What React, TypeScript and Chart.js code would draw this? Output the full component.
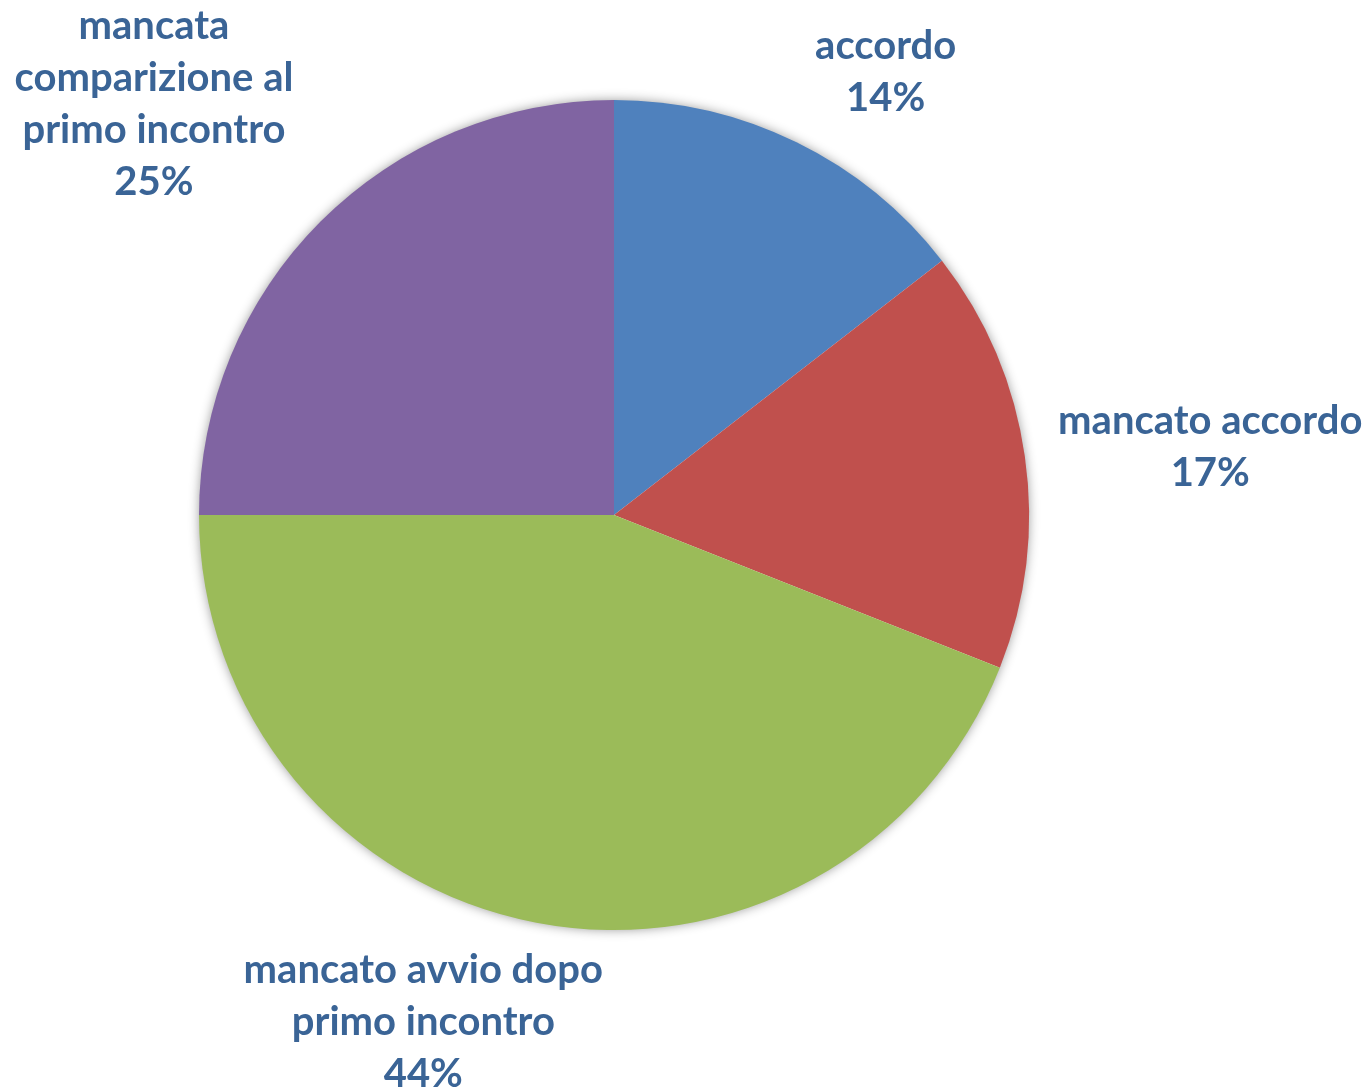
import React, { useEffect, useRef } from "react";
import { Chart, registerables } from "chart.js";

Chart.register(...registerables);

const categories = [
  "accordo",
  "mancato accordo",
  "mancato avvio dopo primo incontro",
  "mancata comparizione al primo incontro",
];
const values = [14.5, 16.5, 44, 25];
const percentLabels = ["14%", "17%", "44%", "25%"];
const labelLines = [
  ["accordo"],
  ["mancato accordo"],
  ["mancato avvio dopo", "primo incontro"],
  ["mancata", "comparizione al", "primo incontro"],
];
const colors = ["#4F81BD", "#C0504D", "#9BBB59", "#8064A2"];

// label placement (layout): angle (deg clockwise from top) and distance from centre in radii
const labelAngles = [31.5, 83.5, 200.6, -48.2];
const labelDist = [1.253, 1.446, 1.306, 1.487];

const shadowPlugin = {
  id: "pieShadow",
  beforeDatasetsDraw(chart: any) {
    const meta = chart.getDatasetMeta(0);
    const arc = meta.data[0];
    if (!arc) return;
    const ctx = chart.ctx;
    ctx.save();
    ctx.shadowColor = "rgba(0,0,0,0.45)";
    ctx.shadowBlur = 12;
    ctx.shadowOffsetX = 0;
    ctx.shadowOffsetY = 0;
    ctx.fillStyle = "#ffffff";
    ctx.beginPath();
    ctx.arc(arc.x, arc.y, arc.outerRadius - 1, 0, Math.PI * 2);
    ctx.fill();
    ctx.restore();
  },
};

const labelPlugin = {
  id: "outerLabels",
  afterDatasetsDraw(chart: any) {
    const meta = chart.getDatasetMeta(0);
    const ctx = chart.ctx;
    ctx.save();
    ctx.fillStyle = "#3A6496";
    ctx.font = "bold 40px Lato, 'Open Sans', sans-serif";
    ctx.textAlign = "center";
    ctx.textBaseline = "middle";
    const lineH = 52;
    meta.data.forEach((arc: any, i: number) => {
      const a = (labelAngles[i] * Math.PI) / 180;
      const r = arc.outerRadius * labelDist[i];
      const cx = arc.x + Math.sin(a) * r;
      const cy = arc.y - Math.cos(a) * r;
      const lines = [...labelLines[i], percentLabels[i]];
      const top = cy - ((lines.length - 1) * lineH) / 2;
      lines.forEach((t, k) => ctx.fillText(t, cx, top + k * lineH));
    });
    ctx.restore();
  },
};

export default function App() {
  const ref = useRef<HTMLCanvasElement | null>(null);
  useEffect(() => {
    document.body.style.margin = "0";
    const chart = new Chart(ref.current as HTMLCanvasElement, {
      type: "pie",
      data: {
        labels: categories,
        datasets: [
          {
            data: values,
            backgroundColor: colors,
            borderWidth: 0,
          },
        ],
      },
      options: {
        animation: false,
        responsive: false,
        layout: { padding: { left: 199, right: 341, top: 100, bottom: 159 } },
        plugins: {
          legend: { display: false },
          tooltip: { enabled: false },
        },
      },
      plugins: [shadowPlugin, labelPlugin],
    });
    return () => chart.destroy();
  }, []);
  return (
    <div style={{ width: 1370, height: 1089, background: "#fff" }}>
      <canvas ref={ref} width={1370} height={1089} />
    </div>
  );
}
